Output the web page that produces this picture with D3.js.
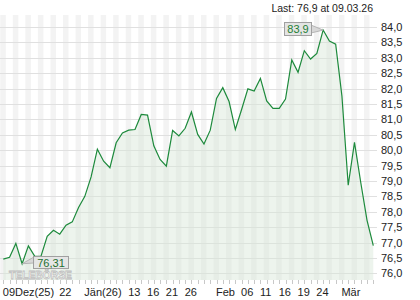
<!DOCTYPE html>
<html>
<head>
<meta charset="utf-8">
<script src="https://cdn.jsdelivr.net/npm/d3@7"></script>
<style>
	body{margin:0;background:#fff;}
	text{font-family:'Liberation Sans',Arial,sans-serif;}
</style>
</head>
<body>
<script>
var dates = ['2025-12-09','2025-12-10','2025-12-11','2025-12-12','2025-12-15','2025-12-16','2025-12-17','2025-12-18','2025-12-19','2025-12-22',
	'2025-12-23','2025-12-29','2025-12-30','2026-01-02','2026-01-05','2026-01-06','2026-01-07','2026-01-08','2026-01-09','2026-01-12',
	'2026-01-13','2026-01-14','2026-01-15','2026-01-16','2026-01-19','2026-01-20','2026-01-21','2026-01-22','2026-01-23','2026-01-26',
	'2026-01-27','2026-01-28','2026-01-29','2026-01-30','2026-02-02','2026-02-03','2026-02-04','2026-02-05','2026-02-06','2026-02-09',
	'2026-02-10','2026-02-11','2026-02-12','2026-02-13','2026-02-16','2026-02-17','2026-02-18','2026-02-19','2026-02-20','2026-02-23',
	'2026-02-24','2026-02-25','2026-02-26','2026-02-27','2026-03-02','2026-03-03','2026-03-04','2026-03-05','2026-03-06','2026-03-09'];

var prices = [76.46,76.52,76.97,76.31,76.89,76.56,76.55,77.20,77.40,77.27,
	77.56,77.67,78.14,78.50,79.13,80.03,79.64,79.43,80.24,80.56,
	80.65,80.67,81.16,81.14,80.14,79.70,79.48,80.64,80.46,80.71,
	81.24,80.51,80.20,80.65,81.68,82.03,81.58,80.67,81.32,81.99,
	81.92,82.33,81.60,81.36,81.36,81.66,82.93,82.53,83.23,82.96,
	83.14,83.90,83.54,83.44,81.75,78.86,80.25,78.95,77.72,76.90];

var xLabels = [['2025-12-09','09Dez(25)'],['2025-12-22','22'],['2026-01-02','Jän(26)'],['2026-01-13','13'],['2026-01-16','16'],
	['2026-01-21','21'],['2026-01-26','26'],['2026-02-02','Feb'],['2026-02-06','06'],['2026-02-11','11'],
	['2026-02-16','16'],['2026-02-19','19'],['2026-02-24','24'],['2026-03-02','Mär']];

var yTicks = [76,76.5,77,77.5,78,78.5,79,79.5,80,80.5,81,81.5,82,82.5,83,83.5,84];

var lastText = 'Last: 76,9 at 09.03.26';
var hiText = '83,9';
var loText = '76,31';

var W = 420, H = 300;
var plotTop = 15, plotBottom = 280, plotRight = 375;

var svg = d3.select('body')
			.append('svg')
			.attr('width',W)
			.attr('height',H);

var x = d3.scalePoint()
			.domain(dates)
			.range([3.3,373.3]);

var y = d3.scaleLinear()
			.domain([76,84])
			.range([273.3,27]);

// alternating day stripes
svg.append('g')
	.selectAll('rect')
	.data(dates.filter((d,i)=>i%2==0))
	.enter()
	.append('rect')
	.attr('x',(d)=>Math.max(0,x(d)-3))
	.attr('y',plotTop)
	.attr('width',(d)=>Math.min(plotRight,x(d)+2.5)-Math.max(0,x(d)-3))
	.attr('height',plotBottom-plotTop)
	.attr('fill','#f3f3f3');

// horizontal grid
svg.append('g')
	.selectAll('line')
	.data(yTicks)
	.enter()
	.append('line')
	.attr('x1',0)
	.attr('x2',plotRight+2)
	.attr('y1',(d)=>Math.round(y(d))+0.5)
	.attr('y2',(d)=>Math.round(y(d))+0.5)
	.attr('stroke','#e0e0e0')
	.attr('stroke-width',1);

var area = d3.area()
			.x((d,i)=>x(dates[i]))
			.y0(plotBottom)
			.y1((d)=>y(d));

var line = d3.line()
			.x((d,i)=>x(dates[i]))
			.y((d)=>y(d));

svg.append('path')
	.datum(prices)
	.attr('d',area)
	.attr('fill','#d7e6d7')
	.attr('fill-opacity',0.45);

// watermark
svg.append('text')
	.attr('x',9)
	.attr('y',278.5)
	.attr('font-size',11.5)
	.attr('font-weight','bold')
	.attr('textLength',63)
	.attr('lengthAdjust','spacingAndGlyphs')
	.attr('fill','#ffffff')
	.attr('stroke','#bdbdbd')
	.attr('stroke-width',0.8)
	.text('TELEBÖRSE');

svg.append('path')
	.datum(prices)
	.attr('d',line)
	.attr('fill','none')
	.attr('stroke','#1d8a3c')
	.attr('stroke-width',1.2);

// x ticks
svg.append('g')
	.selectAll('line')
	.data(dates)
	.enter()
	.append('line')
	.attr('x1',(d)=>Math.round(x(d))+0.5)
	.attr('x2',(d)=>Math.round(x(d))+0.5)
	.attr('y1',plotBottom)
	.attr('y2',plotBottom+4)
	.attr('stroke','#c8c8c8');

svg.append('g')
	.selectAll('text')
	.data(xLabels)
	.enter()
	.append('text')
	.attr('x',(d)=>x(d[0])-0.5)
	.attr('y',295.5)
	.attr('font-size',11)
	.attr('fill','#222')
	.text((d)=>d[1]);

// right axis labels
svg.append('g')
	.selectAll('text')
	.data(yTicks)
	.enter()
	.append('text')
	.attr('x',381)
	.attr('y',(d)=>y(d)+4)
	.attr('font-size',11)
	.attr('fill','#222')
	.text((d)=>d3.format('.1f')(d).replace('.',','));

svg.append('text')
	.attr('x',373)
	.attr('y',12)
	.attr('text-anchor','end')
	.attr('font-size',10.5)
	.attr('fill','#222')
	.text(lastText);

// high / low markers
var hiIdx = prices.indexOf(d3.max(prices));
var loIdx = prices.indexOf(d3.min(prices));
var hx = x(dates[hiIdx]), hy = y(prices[hiIdx]);
var lx = x(dates[loIdx]), ly = y(prices[loIdx]);

svg.append('path')
	.attr('d','M'+hx+','+hy+'L311,25L311,33Z')
	.attr('fill','#d8d8d8')
	.attr('stroke','#a8a8a8')
	.attr('stroke-width',0.8);

svg.append('rect')
	.attr('x',284.5)
	.attr('y',22.5)
	.attr('width',27)
	.attr('height',13)
	.attr('fill','#e4e4e4')
	.attr('stroke','#a0a0a0');

svg.append('text')
	.attr('x',298)
	.attr('y',33)
	.attr('text-anchor','middle')
	.attr('font-size',11)
	.attr('fill','#1d7f35')
	.text(hiText);

svg.append('path')
	.attr('d','M'+lx+','+ly+'L34,257L34,263Z')
	.attr('fill','#d8d8d8')
	.attr('stroke','#a8a8a8')
	.attr('stroke-width',0.8);

svg.append('rect')
	.attr('x',33.5)
	.attr('y',256.5)
	.attr('width',35)
	.attr('height',12)
	.attr('fill','#e4e4e4')
	.attr('fill-opacity',0.9)
	.attr('stroke','#a0a0a0');

svg.append('text')
	.attr('x',51)
	.attr('y',266.5)
	.attr('text-anchor','middle')
	.attr('font-size',11)
	.attr('fill','#1d6f30')
	.text(loText);
</script>
</body>
</html>
